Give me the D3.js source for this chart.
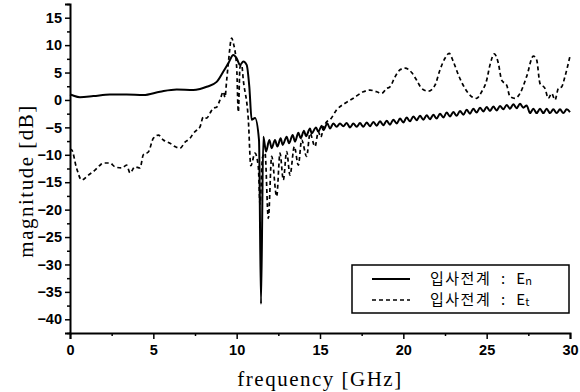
<!DOCTYPE html>
<html>
<head>
<meta charset="utf-8">
<script src="https://cdn.jsdelivr.net/npm/d3@7"></script>
<style>
  body { margin: 0; background: #fff; }
  svg { display: block; }
</style>
</head>
<body>
<svg width="580" height="392"></svg>
<script>
// incident field, normal component (solid)  [GHz, dB]
var enData = [
  [0, 1.0], [0.1, 0.9], [0.6, 0.5], [1.4, 0.7], [2.4, 1.0], [3.4, 1.0], [4.4, 0.9],
  [5.4, 1.5], [6.4, 1.9], [7.4, 1.8], [7.8, 2.0], [8.2, 2.4], [8.8, 3.3], [9.2, 5.2],
  [9.5, 6.7], [9.8, 8.2], [10.0, 7.6], [10.2, 6.4], [10.4, 7.0], [10.6, 6.4], [10.76, 2.4],
  [10.9, -3.6], [11.1, -3.3], [11.34, -7.3], [11.46, -37.2], [11.6, -6.7], [11.76, -9.4],
  [11.96, -7.3], [12.1, -8.8], [12.3, -7.3], [12.44, -8.5], [12.64, -7.0], [12.76, -8.2],
  [13.0, -6.7], [13.14, -7.9], [13.36, -6.4], [13.5, -7.6], [13.7, -6.0], [13.84, -7.0],
  [14.04, -5.6], [14.16, -6.6], [14.4, -5.2], [14.5, -6.1], [14.76, -5.0], [14.9, -5.8],
  [15.1, -4.7], [15.2, -5.5], [15.44, -4.3], [15.6, -5.2], [15.8, -4.3], [16.0, -4.9],
  [16.2, -4.3], [16.4, -4.8], [16.6, -4.2], [16.8, -5.0], [17.0, -4.3], [17.2, -4.9],
  [17.4, -4.2], [17.6, -4.9], [17.8, -4.1], [18.0, -4.8], [18.2, -4.0], [18.4, -4.7],
  [18.6, -3.9], [18.8, -4.6], [19.0, -3.8], [19.2, -4.5], [19.4, -3.6], [19.6, -4.3],
  [19.8, -3.4], [20.0, -4.1], [20.2, -3.2], [20.4, -3.9], [20.6, -3.0], [20.8, -3.7],
  [21.0, -2.9], [21.2, -3.6], [21.4, -2.8], [21.6, -3.5], [21.8, -2.7], [22.0, -3.4],
  [22.2, -2.5], [22.4, -3.2], [22.6, -2.3], [22.8, -3.0], [23.0, -2.2], [23.2, -2.9],
  [23.4, -2.0], [23.6, -2.7], [23.8, -1.8], [24.0, -2.5], [24.2, -1.6], [24.4, -2.3],
  [24.6, -1.4], [24.8, -2.1], [25.0, -1.3], [25.2, -2.0], [25.4, -1.2], [25.6, -1.9],
  [25.8, -1.1], [26.0, -1.7], [26.2, -0.9], [26.4, -1.6], [26.6, -0.8], [26.8, -1.5],
  [27.0, -0.7], [27.2, -1.4], [27.4, -1.0], [27.6, -2.4], [27.8, -1.6], [28.0, -2.4],
  [28.2, -1.6], [28.4, -2.4], [28.6, -1.6], [28.8, -2.4], [29.0, -1.7], [29.2, -2.4],
  [29.4, -1.7], [29.6, -2.4], [29.8, -1.7], [30.0, -2.2]
];

// incident field, tangential component (dashed)
var etData = [
  [0, -9.0], [0.1, -9.1], [0.4, -12.5], [0.7, -14.6], [1.1, -13.7], [1.5, -12.8],
  [1.8, -11.9], [2.0, -11.5], [2.4, -11.5], [2.7, -12.2], [3.1, -12.4], [3.4, -11.9],
  [3.6, -13.3], [3.9, -12.2], [4.2, -12.4], [4.4, -10.0], [4.7, -9.5], [5.0, -7.0],
  [5.3, -6.4], [5.6, -7.3], [6.0, -7.9], [6.3, -8.5], [6.6, -8.8], [6.9, -7.7],
  [7.2, -7.0], [7.4, -6.1], [7.6, -5.5], [7.8, -4.9], [8.0, -3.1], [8.2, -3.3],
  [8.4, -2.4], [8.6, -1.5], [8.8, -1.3], [9.0, 0], [9.2, 1.5], [9.3, 0.5], [9.4, 3.6],
  [9.5, 6.7], [9.7, 11.3], [9.8, 10.4], [10.0, 6.0], [10.1, -2.2], [10.2, 6.0],
  [10.3, 6.4], [10.4, 3.6], [10.7, -3.6], [10.85, -12.0], [11.1, -9.7], [11.3, -12.2],
  [11.4, -19.0], [11.55, -10.5], [11.7, -9.7], [11.9, -21.6], [12.1, -10.3],
  [12.4, -17.6], [12.6, -9.7], [12.8, -14.6], [13.0, -9.4], [13.2, -13.7], [13.46, -8.5],
  [13.7, -11.9], [13.9, -7.3], [14.2, -10.3], [14.4, -6.1], [14.7, -8.5], [14.9, -5.8],
  [15.05, -6.8], [15.2, -5.1], [15.4, -4.0], [15.6, -3.6], [16.0, -1.8], [16.5, -0.6],
  [17.0, 0.3], [17.6, 1.5], [18.0, 1.8], [18.4, 1.5], [18.7, 1.2], [19.0, 2.1],
  [19.2, 2.4], [19.5, 4.2], [19.8, 5.5], [20.1, 5.8], [20.5, 5.0], [20.8, 3.6],
  [21.1, 2.1], [21.5, 1.6], [21.9, 2.7], [22.2, 5.5], [22.5, 7.6], [22.75, 8.5],
  [23.0, 7.0], [23.3, 4.6], [23.7, 2.1], [24.1, 0.6], [24.4, 0.3], [24.7, 1.5],
  [25.0, 3.6], [25.2, 6.4], [25.46, 8.4], [25.7, 6.7], [25.9, 3.6], [26.2, 2.7],
  [26.4, 0.6], [26.7, 0.3], [27.0, 1.2], [27.4, 4.3], [27.8, 8.0], [28.0, 7.3],
  [28.2, 3.0], [28.5, 2.1], [28.7, 0.3], [28.9, 1.2], [29.1, 0], [29.3, 2.1],
  [29.5, 2.4], [29.7, 4.3], [30.0, 8.0]
];

var xTicks = [0, 5, 10, 15, 20, 25, 30];
var yTicks = [15, 10, 5, 0, -5, -10, -15, -20, -25, -30, -35, -40];
var legendLabels = ["입사전계  :  ", "입사전계  :  "];
var legendSubs = ["n", "t"];

var svg = d3.select("svg");

var x = d3.scaleLinear().domain([0, 30]).range([70, 570]);
var y = d3.scaleLinear().domain([-42.5, 17.5]).range([333, 4]);

var tickFont = "'Liberation Sans', Arial, sans-serif";
var titleFont = "'Liberation Serif', 'Times New Roman', serif";

// minor ticks
var xMinor = d3.range(2.5, 30, 5);
var yMinor = d3.range(-42.5, 17.6, 5);

svg.append("g")
  .attr("transform", "translate(0,333)")
  .call(d3.axisBottom(x).tickValues(xTicks).tickSize(6).tickPadding(6).tickFormat(d3.format("d")));

svg.append("g")
  .attr("transform", "translate(0,333)")
  .call(d3.axisBottom(x).tickValues(xMinor).tickSize(3).tickFormat(""))
  .call(g => g.select(".domain").remove());

svg.append("g")
  .attr("transform", "translate(70,0)")
  .call(d3.axisLeft(y).tickValues(yTicks).tickSize(5).tickPadding(3).tickFormat(d3.format("d")));

svg.append("g")
  .attr("transform", "translate(70,0)")
  .call(d3.axisLeft(y).tickValues(yMinor).tickSize(3).tickFormat(""))
  .call(g => g.select(".domain").remove());

svg.selectAll(".domain").attr("stroke", "#000").attr("stroke-width", 2);
svg.selectAll(".tick line").attr("stroke", "#000").attr("stroke-width", 1.5);
svg.selectAll(".tick text")
  .attr("fill", "#000")
  .style("font-family", tickFont)
  .style("font-weight", "bold")
  .style("font-size", "14.5px");

// lines
var line = d3.line()
  .x(d => x(d[0]))
  .y(d => y(d[1]))
  .curve(d3.curveMonotoneX);

svg.append("path")
  .datum(enData)
  .attr("fill", "none")
  .attr("stroke", "#000")
  .attr("stroke-width", 2)
  .attr("stroke-linejoin", "round")
  .attr("d", line);

svg.append("path")
  .datum(etData)
  .attr("fill", "none")
  .attr("stroke", "#000")
  .attr("stroke-width", 1.7)
  .attr("stroke-dasharray", "4,3")
  .attr("d", line);

// axis titles
svg.append("text")
  .attr("x", 320)
  .attr("y", 386)
  .attr("text-anchor", "middle")
  .style("font-family", titleFont)
  .style("font-size", "21px")
  .style("letter-spacing", "1.5px")
  .text("frequency  [GHz]");

svg.append("text")
  .attr("transform", "translate(33,181) rotate(-90)")
  .attr("text-anchor", "middle")
  .style("font-family", titleFont)
  .style("font-size", "21px")
  .style("letter-spacing", "1.5px")
  .text("magnitude  [dB]");

// legend
var legend = svg.append("g");
legend.append("rect")
  .attr("x", 352).attr("y", 265)
  .attr("width", 217).attr("height", 48)
  .attr("fill", "#fff")
  .attr("stroke", "#000")
  .attr("stroke-width", 1.5);

var rows = legend.selectAll("g.row")
  .data(legendLabels)
  .join("g")
  .attr("class", "row")
  .attr("transform", (d, i) => "translate(0," + (279 + i * 21) + ")");

rows.append("line")
  .attr("x1", 372).attr("x2", 410)
  .attr("stroke", "#000")
  .attr("stroke-width", (d, i) => i == 0 ? 2 : 1.5)
  .attr("stroke-dasharray", (d, i) => i == 0 ? null : "4,3");

var lt = rows.append("text")
  .attr("x", 430)
  .attr("y", 5)
  .attr("xml:space", "preserve")
  .style("white-space", "pre")
  .style("font-family", "'Noto Sans CJK KR', sans-serif")
  .style("font-size", "15px");
lt.append("tspan").style("letter-spacing", "1.5px").text(d => d);
lt.append("tspan").text("E");
lt.append("tspan")
  .attr("dy", 1)
  .style("font-size", "11px")
  .text((d, i) => legendSubs[i]);
</script>
</body>
</html>
